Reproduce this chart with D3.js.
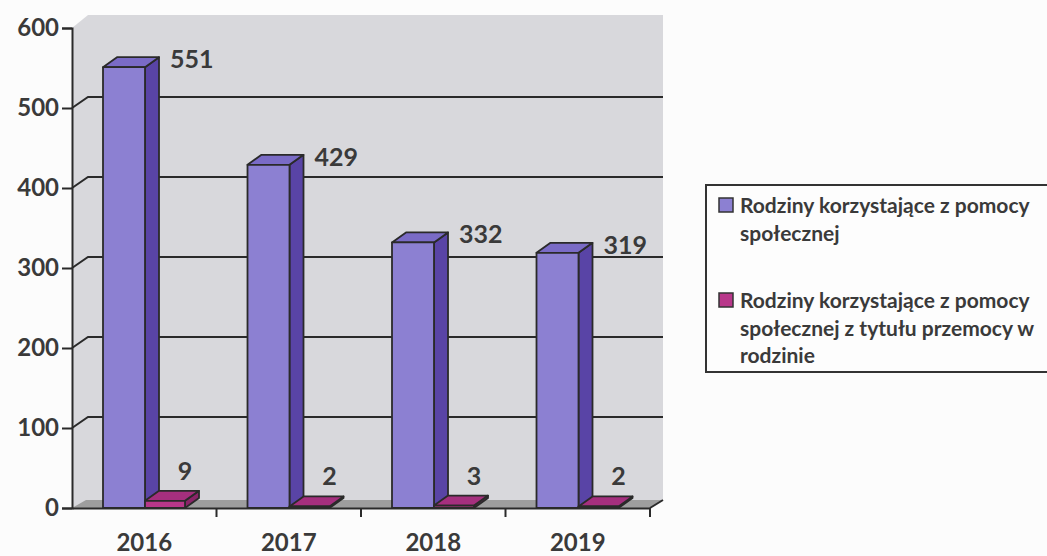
<!DOCTYPE html>
<html>
<head>
<meta charset="utf-8">
<script src="https://cdn.jsdelivr.net/npm/d3@7"></script>
<style>
  body { margin: 0; background: #fcfcfc; }
  text { font-family: Lato, "Open Sans", sans-serif; font-weight: bold; fill: #3a3a3a; }
</style>
</head>
<body>
<div id="chart"></div>
<script>
// data
const years = ["2016", "2017", "2018", "2019"];
const allFamilies = [551, 429, 332, 319];
const violenceFamilies = [9, 2, 3, 2];
const yTicks = [0, 100, 200, 300, 400, 500, 600];
const seriesNames = [
  ["Rodziny korzystające z pomocy", "społecznej"],
  ["Rodziny korzystające z pomocy", "społecznej z tytułu przemocy w", "rodzinie"]
];

const W = 1047, H = 556;
const svg = d3.select("#chart").append("svg")
  .attr("width", W).attr("height", H);

const x = d3.scaleBand().domain(years).range([72, 650]);
const y = d3.scaleLinear().domain([0, 600]).range([508, 28]);

// depth of the 3d box
const wdx = 16, wdy = -11;
const bdx = 14, bdy = -10;

// back wall + left side
const x0 = x.range()[0], x1 = x.range()[1];
svg.append("path")
  .attr("d", `M${x0},${y(600)} L${x0 + wdx},${y(600) + wdy - 2} L${x1 + 13},${y(600) + wdy - 2} L${x1 + 13},${y(0) - 8} L${x1},${y(0)} L${x0},${y(0)} Z`)
  .attr("fill", "#d8d8dc");

// floor
svg.append("path")
  .attr("d", `M${x0},${y(0)} L${x0 + 14},${y(0) - 8} L${x1 + 13},${y(0) - 8} L${x1},${y(0)} Z`)
  .attr("fill", "#9e9e9e");

// gridlines
const grid = svg.append("g").attr("stroke", "#2a2a2a").attr("stroke-width", 2).attr("fill", "none");
yTicks.filter(v => v > 0 && v < 600).forEach(v => {
  grid.append("path")
    .attr("d", `M${x0},${y(v)} L${x0 + wdx},${y(v) + wdy} L${x1 + 13},${y(v) + wdy}`);
});

// 3d bar helper
function bar3d(g, bx, bw, val, cFront, cSide, cTop) {
  const yt = y(val), yb = y(0);
  g.append("path")
    .attr("d", `M${bx + bw},${yb} L${bx + bw + bdx},${yb + bdy} L${bx + bw + bdx},${yt + bdy} L${bx + bw},${yt} Z`)
    .attr("fill", cSide);
  g.append("path")
    .attr("d", `M${bx},${yt} L${bx + bdx},${yt + bdy} L${bx + bw + bdx},${yt + bdy} L${bx + bw},${yt} Z`)
    .attr("fill", cTop);
  g.append("rect")
    .attr("x", bx).attr("y", yt).attr("width", bw).attr("height", yb - yt)
    .attr("fill", cFront);
}

const bars = svg.append("g").attr("stroke", "#2a2a2a").attr("stroke-width", 1.8).attr("stroke-linejoin", "round");
years.forEach((yr, i) => {
  const bx = x(yr);
  bar3d(bars, bx + 31, 42, allFamilies[i], "#8c80d2", "#5944a6", "#7a6bc6");
  bar3d(bars, bx + 73, 40, violenceFamilies[i], "#b8378a", "#8a2468", "#a52f7e");
});

// value labels
years.forEach((yr, i) => {
  svg.append("text")
    .attr("x", x(yr) + 98).attr("y", y(allFamilies[i]) + 1)
    .attr("font-size", 25)
    .text(allFamilies[i]);
  svg.append("text")
    .attr("x", x(yr) + 113).attr("y", y(violenceFamilies[i]) - 21)
    .attr("text-anchor", "middle")
    .attr("font-size", 25)
    .text(violenceFamilies[i]);
});

// axes
const yAxis = svg.append("g")
  .attr("transform", `translate(${x0},0)`)
  .call(d3.axisLeft(y).tickValues(yTicks).tickSize(10).tickPadding(3));
yAxis.select(".domain").attr("stroke", "#2a2a2a").attr("stroke-width", 2);
yAxis.selectAll(".tick line").attr("stroke", "#2a2a2a").attr("stroke-width", 2);
yAxis.selectAll(".tick text").attr("font-size", 24).attr("fill", "#3a3a3a")
  .attr("font-family", "Lato, sans-serif").attr("font-weight", "bold");

const xAxis = svg.append("g")
  .attr("transform", `translate(0,${y(0)})`)
  .call(d3.axisBottom(x).tickSize(0).tickPadding(26));
xAxis.select(".domain").attr("stroke", "#2a2a2a").attr("stroke-width", 2);
xAxis.selectAll(".tick text").attr("font-size", 24).attr("fill", "#3a3a3a")
  .attr("font-family", "Lato, sans-serif").attr("font-weight", "bold");
// band separators on the x axis
const sep = svg.append("g").attr("stroke", "#2a2a2a").attr("stroke-width", 2);
years.forEach(yr => {
  const sx = x(yr) + x.bandwidth();
  sep.append("line").attr("x1", sx).attr("x2", sx).attr("y1", y(0)).attr("y2", y(0) + 9);
});
sep.append("line").attr("x1", x1).attr("y1", y(0)).attr("x2", x1 + 13).attr("y2", y(0) - 8);

// legend
const lg = svg.append("g");
lg.append("rect").attr("x", 706).attr("y", 185).attr("width", 360).attr("height", 187)
  .attr("fill", "#fdfdfd").attr("stroke", "#333").attr("stroke-width", 2);
const legendColors = ["#8c80d2", "#b8378a"];
const legendTop = [198, 293];
seriesNames.forEach((lines, k) => {
  lg.append("rect").attr("x", 719).attr("y", legendTop[k]).attr("width", 14).attr("height", 14)
    .attr("fill", legendColors[k]).attr("stroke", "#333").attr("stroke-width", 1.5);
  lines.forEach((ln, j) => {
    lg.append("text").attr("x", 740).attr("y", legendTop[k] + 15 + j * 27.5)
      .attr("font-size", 21).text(ln);
  });
});
</script>
</body>
</html>
